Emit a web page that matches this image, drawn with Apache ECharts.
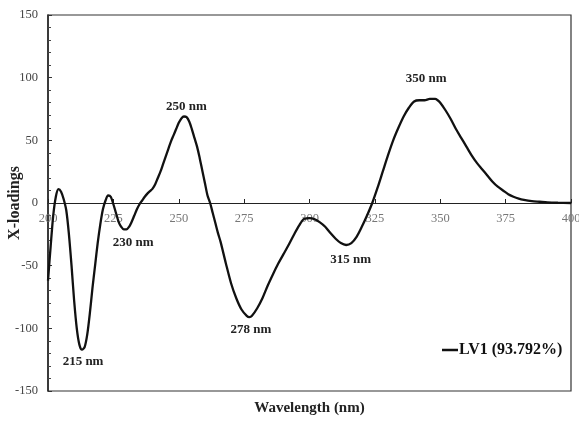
<!DOCTYPE html>
<html>
<head>
<meta charset="utf-8">
<script src="https://cdn.jsdelivr.net/npm/echarts@6/dist/echarts.min.js"></script>
<style>
  html, body { margin: 0; padding: 0; background: #fff; }
  #chart { width: 579px; height: 421px; }
</style>
</head>
<body>
<div id="chart"></div>
<script>
// Loading spectrum of the first latent variable
const wavelength = [
  200, 201, 202, 203, 204, 205, 206, 207, 208, 209, 210, 211, 212, 213, 214, 215, 216, 217, 218, 219,
  220, 221, 222, 223, 224, 225, 226, 227, 228, 229, 230, 231, 232, 233, 234, 235, 236, 237, 238, 239,
  240, 241, 242, 243, 244, 245, 246, 247, 248, 249, 250, 251, 252, 253, 254, 255, 256, 257, 258, 259,
  260, 261, 262, 263, 264, 265, 266, 268, 270, 272, 274, 276, 277, 278, 280, 282, 284, 286, 288, 290,
  292, 294, 296, 298, 300, 302, 304, 306, 308, 310, 312, 314, 316, 318, 320, 322, 324, 326, 328, 330,
  332, 334, 336, 338, 340, 342, 344, 346, 348, 349, 350, 352, 354, 356, 358, 360, 362, 364, 366, 368,
  370, 372, 374, 376, 378, 380, 382, 385, 388, 391, 395, 400
];
const loading = [
  -62, -35, -10, 5, 11, 9, 3, -6, -25, -50, -78, -100, -113, -117, -115, -105, -88, -68, -50, -32,
  -17, -5, 2, 6, 5, -1, -8, -15, -19, -21, -21, -19, -15, -10, -5, -1, 2, 5, 7.5, 9.5,
  11.5, 15, 20, 25, 31, 37, 43, 49, 54, 59, 64, 67.5, 69, 68.5, 65, 59, 52, 45, 36, 26,
  16, 6, 0, -8, -16, -24, -31, -48, -64, -76, -85, -90, -91, -90, -84, -76, -66, -57, -48.5, -41,
  -33.5, -25.5, -18, -12.5, -12, -13, -15.5, -19, -24, -28.5, -32, -33.5, -32, -27, -19, -10, 0, 12, 25, 38,
  50, 60, 69, 76, 81, 82, 82, 83, 83, 82, 80, 74, 67, 59, 52, 45, 38, 32, 27, 22,
  17, 13, 10, 7, 5, 3.5, 2.5, 1.5, 1, 0.5, 0.2, 0
];

// Band annotations: text and where the text sits in data units
const bandText = ['215 nm', '230 nm', '250 nm', '278 nm', '315 nm', '350 nm'];
const bandLabelX = [213.4, 232.6, 252.9, 277.6, 315.7, 344.6];
const bandLabelY = [-126.8, -31.9, 76.6, -101.3, -45.5, 98.9];

const xTicks = [200, 225, 250, 275, 300, 325, 350, 375, 400];
const yTicks = [-150, -100, -50, 0, 50, 100, 150];

const seriesName = 'LV1 (93.792%)';

const serif = '"Liberation Serif", "Times New Roman", serif';

// plot box in pixels
const gridTop = 15, gridBottom = 30, chartH = 421;
const plotH = chartH - gridTop - gridBottom;
const yMin = yTicks[0], yMax = yTicks[yTicks.length - 1];
// the wavelength axis runs along loading = 0
const zeroLift = plotH * (0 - yMin) / (yMax - yMin);

const chart = echarts.init(document.getElementById('chart'), null, { renderer: 'canvas' });

chart.setOption({
  animation: false,
  backgroundColor: '#fff',
  grid: {
    left: 48, right: 8, top: gridTop, bottom: gridBottom,
    outerBoundsMode: 'none', containLabel: false,
    show: true, borderColor: '#333', borderWidth: 1.2, backgroundColor: 'transparent'
  },
  legend: {
    data: [seriesName],
    left: 437, top: 337,
    icon: 'rect', itemWidth: 16, itemHeight: 2.5, itemGap: 0,
    textStyle: { fontFamily: serif, fontWeight: 'bold', fontSize: 16, color: '#111', padding: [0, 0, 0, -4] }
  },
  xAxis: [
    {
      type: 'value', min: xTicks[0], max: xTicks[xTicks.length - 1], interval: 25,
      position: 'bottom', offset: -zeroLift,
      axisLine: { onZero: false, lineStyle: { color: '#222', width: 1 } },
      axisTick: { show: true, inside: true, length: 4, lineStyle: { color: '#222' } },
      axisLabel: { fontFamily: serif, fontSize: 12.5, color: '#777', margin: 9, showMinLabel: true, showMaxLabel: true },
      splitLine: { show: false }
    },
    {
      type: 'value', min: xTicks[0], max: xTicks[xTicks.length - 1], position: 'bottom',
      name: 'Wavelength (nm)', nameLocation: 'middle', nameGap: 10, nameMoveOverlap: false,
      nameTextStyle: { fontFamily: serif, fontWeight: 'bold', fontSize: 15, color: '#222' },
      axisLine: { show: false, onZero: false }, axisTick: { show: false }, axisLabel: { show: false },
      splitLine: { show: false }
    }
  ],
  yAxis: {
    type: 'value', min: yMin, max: yMax, interval: 50,
    name: 'X-loadings', nameLocation: 'middle', nameGap: 25, nameRotate: 90, nameMoveOverlap: false,
    nameTextStyle: { fontFamily: serif, fontWeight: 'bold', fontSize: 16, color: '#222' },
    axisLine: { show: true, onZero: false, lineStyle: { color: '#222', width: 1.5 } },
    axisTick: { show: true, inside: true, length: 4, lineStyle: { color: '#333' } },
    minorTick: { show: true, splitNumber: 5, length: 3, lineStyle: { color: '#444' } },
    axisLabel: { fontFamily: serif, fontSize: 12.5, color: '#444', margin: 10 },
    splitLine: { show: false }
  },
  series: [
    {
      name: seriesName,
      type: 'line',
      xAxisIndex: 0,
      data: wavelength.map((w, i) => [w, loading[i]]),
      smooth: 0.3,
      showSymbol: false,
      symbol: 'none',
      lineStyle: { color: '#111', width: 2.3 },
      itemStyle: { color: '#111' },
      markPoint: {
        symbol: 'circle', symbolSize: 1,
        itemStyle: { color: 'rgba(0,0,0,0)' },
        label: {
          show: true, position: 'inside', align: 'center', verticalAlign: 'middle',
          fontFamily: serif, fontWeight: 'bold', fontSize: 13, color: '#222',
          formatter: p => p.name
        },
        data: bandText.map((t, i) => ({ name: t, coord: [bandLabelX[i], bandLabelY[i]] }))
      }
    }
  ]
});
</script>
</body>
</html>
